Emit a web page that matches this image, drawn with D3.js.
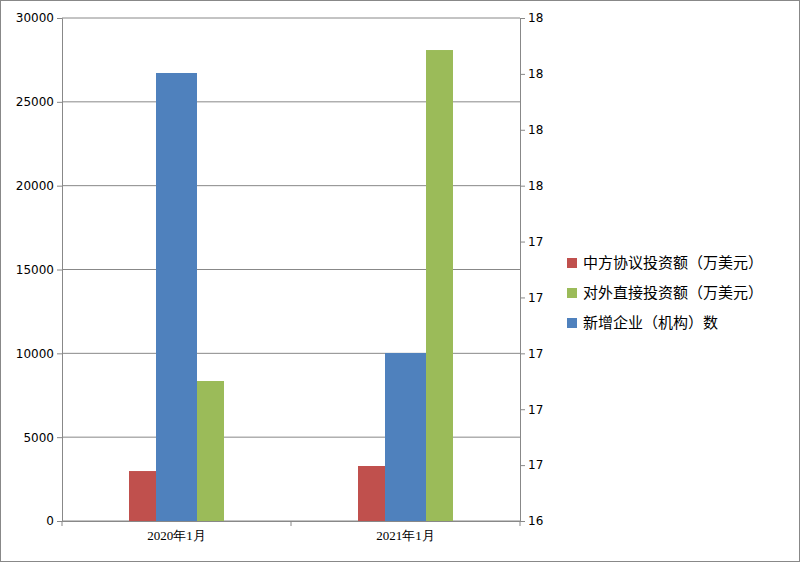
<!DOCTYPE html><html><head><meta charset="utf-8"><script src="https://cdn.jsdelivr.net/npm/d3@7"></script>
<style>body{margin:0}svg{font-family:"Noto Sans CJK SC","DejaVu Sans",sans-serif}</style></head><body><svg width="800" height="562"></svg>
<script>
const categories=["2020年1月","2021年1月"];
const seriesNames=["中方协议投资额（万美元）","对外直接投资额（万美元）","新增企业（机构）数"];
const red=[2980,3280];
const green=[8350,28090];
const blue=[26720,10020];
const leftTicks=[0,5000,10000,15000,20000,25000,30000];
const rightTickLabels=["16","17","17","17","17","17","18","18","18","18"];
const colors=["#C0504D","#9BBB59","#4F81BD"];
const svg=d3.select("svg");
svg.append("rect").attr("x",0.5).attr("y",0.5).attr("width",799).attr("height",561).attr("fill","#fff").attr("stroke","#888");
const L=62,R=520,T=18,B=521;
const y=d3.scaleLinear().domain([0,30000]).range([B,T]);
const x=d3.scaleBand().domain(categories).range([L,R]);
const yr=d3.scaleLinear().domain([0,rightTickLabels.length-1]).range([B,T]);
svg.append("g").selectAll("line").data(leftTicks).join("line").attr("x1",L).attr("x2",R).attr("y1",d=>y(d)).attr("y2",d=>y(d)).attr("stroke","#888");
const ga=svg.append("g").attr("transform",`translate(${L},0)`).call(d3.axisLeft(y).tickValues(leftTicks).tickSize(5).tickFormat(d3.format("d")));
const gr=svg.append("g").attr("transform",`translate(${R},0)`).call(d3.axisRight(yr).ticks(9).tickValues(d3.range(rightTickLabels.length)).tickSize(5).tickFormat(i=>rightTickLabels[i]));
const gb=svg.append("g").attr("transform",`translate(0,${B})`).call(d3.axisBottom(x).tickSize(0).tickPadding(10));
gb.selectAll(".tick").append("line").attr("x1",x.bandwidth()/2).attr("x2",x.bandwidth()/2).attr("y2",5).attr("stroke","#888");
gb.append("line").attr("x1",L).attr("x2",L).attr("y2",5).attr("stroke","#888");
[ga,gr,gb].forEach(g=>{g.selectAll("path,line").attr("stroke","#888");g.selectAll("text").attr("font-size",13).attr("fill","#000").attr("font-family","Liberation Serif, serif");});
ga.selectAll("text").attr("font-family","DejaVu Sans, sans-serif").attr("font-size",12);
gr.selectAll("text").attr("font-family","DejaVu Sans, sans-serif").attr("font-size",12);
// bars: red, blue, green order
const order=[{v:red,c:colors[0],w:27},{v:blue,c:colors[2],w:41},{v:green,c:colors[1],w:27}];
const total=d3.sum(order,o=>o.w);
categories.forEach((cat,i)=>{
  let off=x(cat)+x.bandwidth()/2-total/2;
  order.forEach(o=>{
    svg.append("rect").attr("x",off).attr("width",o.w).attr("y",y(o.v[i])).attr("height",B-y(o.v[i])).attr("fill",o.c);
    off+=o.w;
  });
});
const lg=svg.append("g").attr("transform","translate(567,263)");
seriesNames.forEach((n,i)=>{
  const g=lg.append("g").attr("transform",`translate(0,${i*30})`);
  g.append("rect").attr("x",0).attr("y",-5).attr("width",10).attr("height",10).attr("fill",colors[i]);
  g.append("text").attr("x",16).attr("y",0).attr("dy","0.35em").attr("font-size",15).text(n);
});
</script></body></html>
